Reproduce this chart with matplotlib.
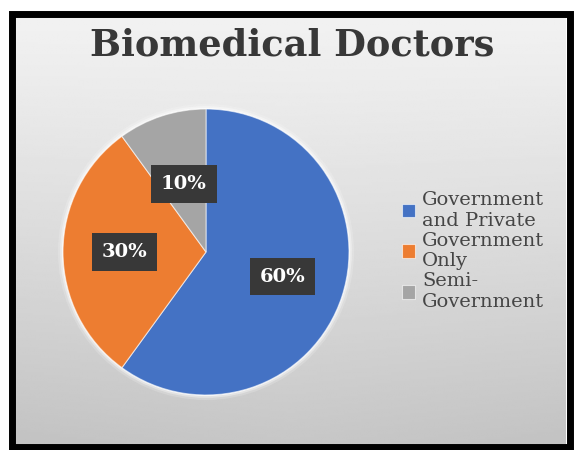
import numpy as np
import matplotlib
matplotlib.use("Agg")
import matplotlib.pyplot as plt
from matplotlib.patches import Rectangle, Circle

# Data
categories = ["Government\nand Private", "Government\nOnly", "Semi-\nGovernment"]
shares = [60, 30, 10]
pct_labels = ["60%", "30%", "10%"]
colors = ["#4472C4", "#ED7D31", "#A5A5A5"]
label_radius = [0.56, 0.57, 0.50]

W, H = 574, 450
fig = plt.figure(figsize=(W / 100, H / 100), dpi=100)
fig.patch.set_facecolor("white")

# Panel background: soft grey gradient inside a thick black frame
left, right, top, bottom = 15, 566, 17, 444
bg = fig.add_axes([left / W, 1 - bottom / H, (right - left) / W, (bottom - top) / H])
yy, xx = np.mgrid[0:1:200j, 0:1:200j]
shade = 0.945 - 0.165 * yy ** 1.15 - 0.035 * np.abs(xx - 0.5) * yy
bg.imshow(shade, cmap="gray", vmin=0, vmax=1, aspect="auto",
          extent=[0, 1, 1, 0], interpolation="bilinear")
bg.set_axis_off()

frame = Rectangle(((left - 3.5) / W, 1 - (bottom + 3) / H),
                  (right - left + 7) / W, (bottom - top + 6.5) / H,
                  transform=fig.transFigure, fill=False,
                  edgecolor="black", linewidth=5.0, zorder=10)
fig.patches.append(frame)

# Title
fig.text(292 / W, 1 - 56 / H, "Biomedical Doctors", ha="center", va="baseline",
         fontsize=26.5, fontweight="bold", family="DejaVu Serif", color="#383838")

# Pie
cx, cy, r = 206, 252, 143
ax = fig.add_axes([(cx - 1.04 * r) / W, 1 - (cy + 1.04 * r) / H,
                   2.08 * r / W, 2.08 * r / H])
# faint light halo around the pie
for rr, a in [(1.035, 0.18), (1.02, 0.35), (1.008, 0.6)]:
    ax.add_patch(Circle((0, 0), rr, facecolor="white", edgecolor="none",
                        alpha=a, zorder=0))
wedges, _ = ax.pie(shares, colors=colors, startangle=90, counterclock=False,
                   radius=1.0,
                   wedgeprops=dict(edgecolor=(1, 1, 1, 0.6), linewidth=0.8,
                                   zorder=1))
ax.set_xlim(-1.04, 1.04)
ax.set_ylim(-1.04, 1.04)
ax.set_aspect("equal")
ax.set_axis_off()

for w, lab, d in zip(wedges, pct_labels, label_radius):
    ang = np.deg2rad((w.theta1 + w.theta2) / 2)
    ax.text(d * np.cos(ang), d * np.sin(ang), lab, ha="center", va="center",
            fontsize=14, fontweight="bold", family="DejaVu Serif", color="white",
            zorder=5,
            bbox=dict(boxstyle="square,pad=0.5", facecolor="#383838",
                      edgecolor="none"))

# Legend
leg = fig.legend(wedges, categories, loc="center left",
                 bbox_to_anchor=(394 / W, 1 - 251 / H), frameon=False,
                 prop=dict(family="DejaVu Serif", size=14),
                 handlelength=0.7, handleheight=0.7, handletextpad=0.35,
                 labelspacing=0.09, borderaxespad=0)
for t in leg.get_texts():
    t.set_color("#454545")
    t.set_linespacing(1.21)

fig.savefig("out.png", dpi=100)
